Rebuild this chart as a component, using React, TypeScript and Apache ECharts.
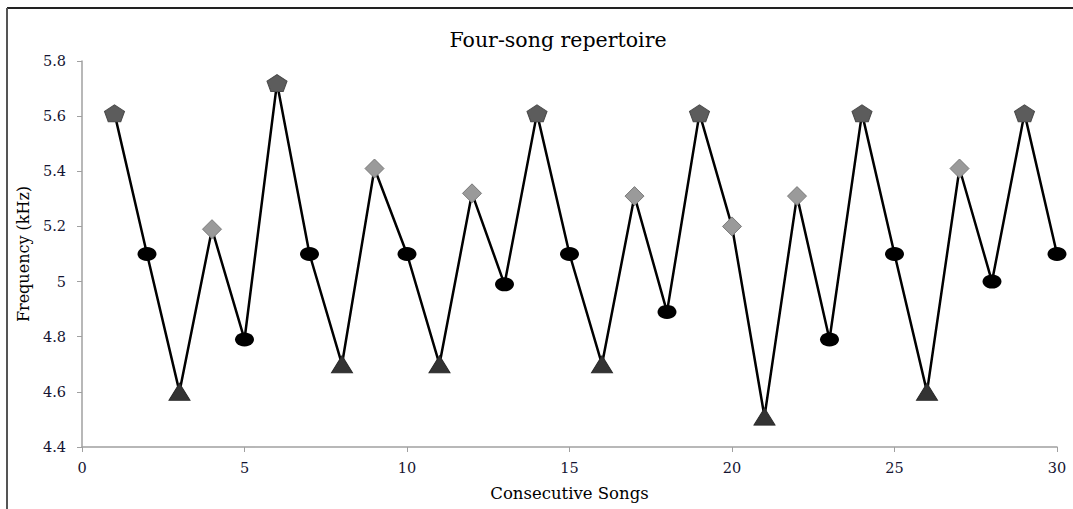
import React, { useEffect, useRef } from "react";
import * as echarts from "echarts";

const songs = [1,2,3,4,5,6,7,8,9,10,11,12,13,14,15,16,17,18,19,20,21,22,23,24,25,26,27,28,29,30];
const frequencies = [5.61,5.1,4.6,5.19,4.79,5.72,5.1,4.7,5.41,5.1,4.7,5.32,4.99,5.61,5.1,4.7,5.31,4.89,5.61,5.2,4.51,5.31,4.79,5.61,5.1,4.6,5.41,5.0,5.61,5.1];
const songTypes = ["A","B","C","D","B","A","B","C","D","B","C","D","B","A","B","C","D","B","A","D","C","D","B","A","B","C","D","B","A","B"];
const xTicks = [0,5,10,15,20,25,30];
const yTicks = [4.4,4.6,4.8,5.0,5.2,5.4,5.6,5.8];

const PENTAGON = "path://M0,-10 L9.51,-3.09 L5.88,8.09 L-5.88,8.09 L-9.51,-3.09 Z";

const typeStyle: Record<string, any> = {
  A: { symbol: PENTAGON, symbolSize: [20, 17], itemStyle: { color: "#5c5c5c", borderColor: "#4a4a4a", borderWidth: 1 } },
  B: { symbol: "circle", symbolSize: [19, 14], itemStyle: { color: "#000000", borderColor: "#000", borderWidth: 0 } },
  C: { symbol: "triangle", symbolSize: [21, 17], itemStyle: { color: "#333333", borderColor: "#2a2a2a", borderWidth: 1 } },
  D: { symbol: "diamond", symbolSize: [19, 19], itemStyle: { color: "#9a9a9a", borderColor: "#7a7a7a", borderWidth: 1 } },
};

const FONT = "'DejaVu Serif', 'Liberation Serif', serif";

export default function App() {
  const ref = useRef<HTMLDivElement>(null);
  useEffect(() => {
    document.body.style.margin = "0";
    if (!ref.current) return;
    const chart = echarts.init(ref.current, undefined, { renderer: "svg" });
    const data = songs.map((s, i) => ({
      value: [s, frequencies[i]],
      ...typeStyle[songTypes[i]],
    }));
    chart.setOption({
      animation: false,
      backgroundColor: "#ffffff",
      title: {
        text: "Four-song repertoire",
        left: 553,
        top: 24,
        textAlign: "center",
        textStyle: { fontFamily: FONT, fontSize: 20.5, fontWeight: "normal", color: "#000" },
      },
      grid: { left: 82, right: 16, top: 61, bottom: 62 },
      xAxis: {
        type: "value",
        min: xTicks[0],
        max: xTicks[xTicks.length - 1],
        interval: 5,
        name: "Consecutive Songs",
        nameLocation: "middle",
        nameGap: 38,
        nameTextStyle: { fontFamily: FONT, fontSize: 16.5, color: "#000" },
        axisLine: { lineStyle: { color: "#a0a0a0", width: 1.5 } },
        axisTick: { show: true, length: 5, lineStyle: { color: "#a0a0a0" } },
        axisLabel: { fontFamily: FONT, fontSize: 14.5, color: "#141432", margin: 13 },
        splitLine: { show: false },
      },
      yAxis: {
        type: "value",
        min: yTicks[0],
        max: yTicks[yTicks.length - 1],
        interval: 0.2,
        name: "Frequency (kHz)",
        nameLocation: "middle",
        nameGap: 51,
        nameRotate: 90,
        nameTextStyle: { fontFamily: FONT, fontSize: 16, color: "#000" },
        axisLine: { show: true, lineStyle: { color: "#a0a0a0", width: 1.5 } },
        axisTick: { show: true, length: 5, lineStyle: { color: "#a0a0a0" } },
        axisLabel: {
          fontFamily: FONT,
          fontSize: 14.5,
          color: "#141432",
          margin: 16,
          formatter: (v: number) => String(Math.round(v * 10) / 10),
        },
        splitLine: { show: false },
      },
      graphic: [
        { type: "line", shape: { x1: 7, y1: 8, x2: 1073, y2: 8 }, style: { stroke: "#222", lineWidth: 2 } },
        { type: "line", shape: { x1: 7, y1: 8, x2: 7, y2: 509 }, style: { stroke: "#555", lineWidth: 2 } },
      ],
      series: [
        {
          type: "line",
          data,
          lineStyle: { color: "#000", width: 2.5 },
          showAllSymbol: true,
          z: 3,
        },
      ],
    });
    return () => chart.dispose();
  }, []);
  return <div ref={ref} style={{ width: 1073, height: 509 }} />;
}
